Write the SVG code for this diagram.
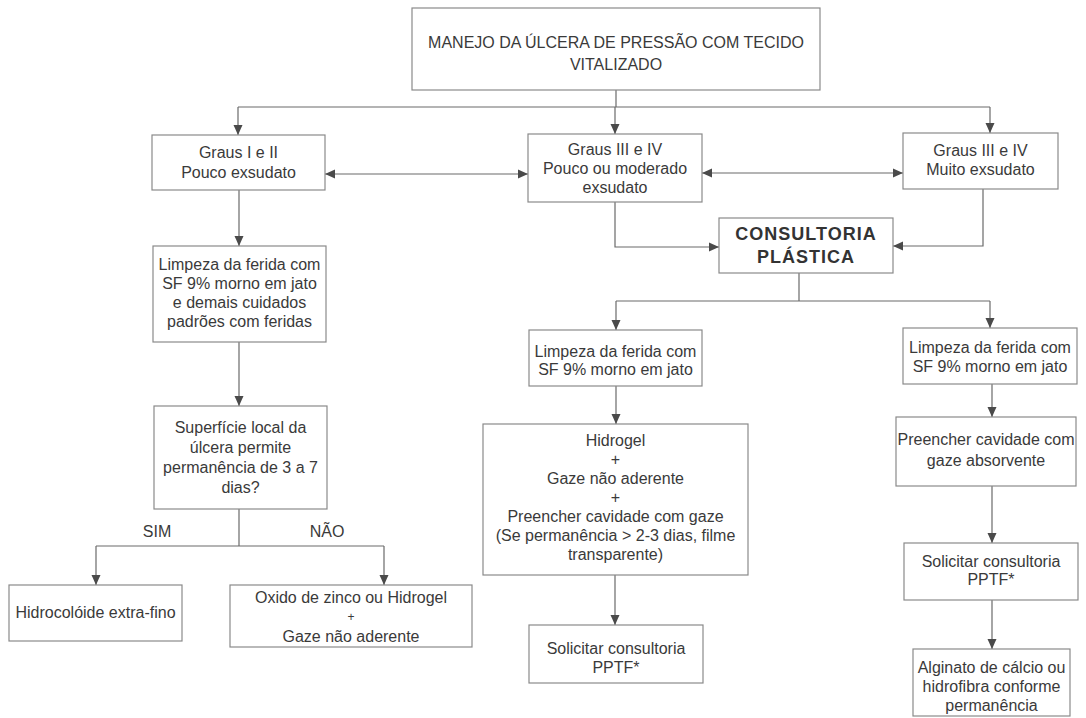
<svg xmlns="http://www.w3.org/2000/svg" width="1086" height="718" viewBox="0 0 1086 718">
<style>
.box{fill:#fff;stroke:#8a8a8a;stroke-width:1.2}
.t{font-family:"Liberation Sans",Arial,sans-serif;font-size:16px;fill:#3a3a3a;text-anchor:middle}
.b{font-family:"Liberation Sans",Arial,sans-serif;font-size:18px;font-weight:bold;fill:#333;text-anchor:middle;letter-spacing:1px}
.c{fill:none;stroke:#6a6a6a;stroke-width:1.2}
</style>
<defs>
<marker id="ah" markerUnits="userSpaceOnUse" markerWidth="10" markerHeight="10" viewBox="0 0 10 10" refX="10" refY="5" orient="auto-start-reverse">
<path d="M0,0.5 L10,5 L0,9.5 Z" fill="#4a4a4a"/>
</marker>
</defs>
<rect width="1086" height="718" fill="#fff"/>
<g id="connectors">
<path class="c" d="M616,90 V107"/>
<path class="c" d="M238,107 H990"/>
<path class="c" d="M238,107 V135" marker-end="url(#ah)"/>
<path class="c" d="M615,107 V134" marker-end="url(#ah)"/>
<path class="c" d="M990,107 V133" marker-end="url(#ah)"/>
<path class="c" d="M325,174 H528" marker-start="url(#ah)" marker-end="url(#ah)"/>
<path class="c" d="M702,173 H903" marker-start="url(#ah)" marker-end="url(#ah)"/>
<path class="c" d="M615,202 V247 H719" marker-end="url(#ah)"/>
<path class="c" d="M983,189 V246 H893" marker-end="url(#ah)"/>
<path class="c" d="M799,273 V301"/>
<path class="c" d="M616,301 H990"/>
<path class="c" d="M616,301 V330" marker-end="url(#ah)"/>
<path class="c" d="M990,301 V328" marker-end="url(#ah)"/>
<path class="c" d="M616,386 V424" marker-end="url(#ah)"/>
<path class="c" d="M615,575 V625" marker-end="url(#ah)"/>
<path class="c" d="M992,384 V417" marker-end="url(#ah)"/>
<path class="c" d="M992,486 V543" marker-end="url(#ah)"/>
<path class="c" d="M992,600 V649" marker-end="url(#ah)"/>
<path class="c" d="M239,190 V246" marker-end="url(#ah)"/>
<path class="c" d="M239,342 V406" marker-end="url(#ah)"/>
<path class="c" d="M239,509 V546"/>
<path class="c" d="M96,546 H384"/>
<path class="c" d="M96,546 V585" marker-end="url(#ah)"/>
<path class="c" d="M384,546 V585" marker-end="url(#ah)"/>
<text class="t" x="157" y="537">SIM</text>
<text class="t" x="327" y="537">NÃO</text>
</g>
<g id="titulo">
<rect class="box" x="412" y="8" width="408" height="82"/>
<text class="t" x="616" y="48">MANEJO DA ÚLCERA DE PRESSÃO COM TECIDO</text>
<text class="t" x="616" y="70">VITALIZADO</text>
</g>
<g id="graus12">
<rect class="box" x="152" y="135" width="173" height="55"/>
<text class="t" x="238.5" y="158">Graus I e II</text>
<text class="t" x="238.5" y="178">Pouco exsudato</text>
</g>
<g id="graus34moderado">
<rect class="box" x="528" y="134" width="174" height="68"/>
<text class="t" x="615" y="155">Graus III e IV</text>
<text class="t" x="615" y="174">Pouco ou moderado</text>
<text class="t" x="615" y="193">exsudato</text>
</g>
<g id="graus34muito">
<rect class="box" x="903" y="133" width="155" height="56"/>
<text class="t" x="980.5" y="156">Graus III e IV</text>
<text class="t" x="980.5" y="175">Muito exsudato</text>
</g>
<g id="consultoria">
<rect class="box" x="719" y="218" width="174" height="55"/>
<text class="b" x="806" y="240">CONSULTORIA</text>
<text class="b" x="806" y="263">PLÁSTICA</text>
</g>
<g id="limpeza-esq">
<rect class="box" x="153" y="246" width="173" height="96"/>
<text class="t" x="239.5" y="270">Limpeza da ferida com</text>
<text class="t" x="239.5" y="289">SF 9% morno em jato</text>
<text class="t" x="239.5" y="308">e demais cuidados</text>
<text class="t" x="239.5" y="327">padrões com feridas</text>
</g>
<g id="superficie">
<rect class="box" x="154" y="406" width="173" height="103"/>
<text class="t" x="240.5" y="433">Superfície local da</text>
<text class="t" x="240.5" y="453">úlcera permite</text>
<text class="t" x="240.5" y="473">permanência de 3 a 7</text>
<text class="t" x="240.5" y="493">dias?</text>
</g>
<g id="hidrocoloide">
<rect class="box" x="9" y="585" width="173" height="56"/>
<text class="t" x="95.5" y="618">Hidrocolóide extra-fino</text>
</g>
<g id="oxido">
<rect class="box" x="230" y="585" width="242" height="62"/>
<text class="t" x="351" y="603">Oxido de zinco ou Hidrogel</text>
<text class="t" x="351" y="621" style="font-size:12px">+</text>
<text class="t" x="351" y="642">Gaze não aderente</text>
</g>
<g id="limpeza-meio">
<rect class="box" x="529" y="330" width="173" height="56"/>
<text class="t" x="615.5" y="357">Limpeza da ferida com</text>
<text class="t" x="615.5" y="375">SF 9% morno em jato</text>
</g>
<g id="hidrogel">
<rect class="box" x="483" y="424" width="265" height="151"/>
<text class="t" x="615.5" y="446">Hidrogel</text>
<text class="t" x="615.5" y="465">+</text>
<text class="t" x="615.5" y="484">Gaze não aderente</text>
<text class="t" x="615.5" y="503">+</text>
<text class="t" x="615.5" y="522">Preencher cavidade com gaze</text>
<text class="t" x="615.5" y="541">(Se permanência &gt; 2-3 dias, filme</text>
<text class="t" x="615.5" y="560">transparente)</text>
</g>
<g id="solicitar-meio">
<rect class="box" x="529" y="625" width="174" height="58"/>
<text class="t" x="616" y="654">Solicitar consultoria</text>
<text class="t" x="616" y="673">PPTF*</text>
</g>
<g id="limpeza-dir">
<rect class="box" x="903" y="328" width="174" height="56"/>
<text class="t" x="990" y="353">Limpeza da ferida com</text>
<text class="t" x="990" y="372">SF 9% morno em jato</text>
</g>
<g id="preencher">
<rect class="box" x="896" y="417" width="180" height="69"/>
<text class="t" x="986" y="445">Preencher cavidade com</text>
<text class="t" x="986" y="466">gaze absorvente</text>
</g>
<g id="solicitar-dir">
<rect class="box" x="904" y="543" width="174" height="57"/>
<text class="t" x="991" y="567">Solicitar consultoria</text>
<text class="t" x="991" y="585">PPTF*</text>
</g>
<g id="alginato">
<rect class="box" x="913" y="649" width="157" height="67"/>
<text class="t" x="991.5" y="673">Alginato de cálcio ou</text>
<text class="t" x="991.5" y="692">hidrofibra conforme</text>
<text class="t" x="991.5" y="711">permanência</text>
</g>
</svg>
